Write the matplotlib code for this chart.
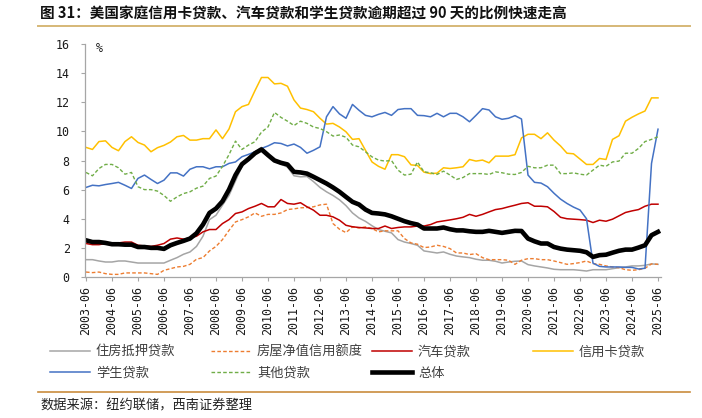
import matplotlib
matplotlib.use("Agg")
import matplotlib.pyplot as plt
from matplotlib.lines import Line2D
import numpy as np

plt.rcParams['font.family'] = ['Noto Sans CJK SC', 'DejaVu Sans']

# quarterly labels 2003-06 ... 2025-06
quarters = []
for y in range(2003, 2026):
    for m in (3, 6, 9, 12):
        if (y == 2003 and m < 6) or (y == 2025 and m > 6):
            continue
        quarters.append(f"{y}-{m:02d}")

mortgage = [1.19,1.19,1.10,1.03,1.03,1.10,1.10,1.03,0.96,0.96,0.96,0.96,0.96,1.15,1.33,1.56,1.72,2.10,2.80,3.94,4.24,4.93,5.60,
            6.60,7.60,8.10,8.60,8.90,8.50,7.95,7.75,7.55,6.95,6.88,6.90,6.55,6.15,5.85,5.60,5.30,4.90,4.40,4.05,3.82,3.52,
            3.26,3.14,3.03,2.57,2.40,2.30,2.18,1.79,1.72,1.65,1.72,1.56,1.44,1.38,1.33,1.22,1.15,1.15,1.08,0.96,1.03,
            1.08,1.10,0.85,0.76,0.69,0.62,0.53,0.50,0.50,0.50,0.46,0.41,0.50,0.50,0.50,0.57,0.64,0.69,0.76,0.76,0.80,0.90,0.87]
heloc = [0.34,0.30,0.34,0.23,0.18,0.18,0.28,0.28,0.28,0.28,0.23,0.18,0.46,0.57,0.69,0.73,0.87,1.22,1.33,1.79,2.10,2.57,3.20,
         3.78,3.94,4.13,4.40,4.17,4.30,4.30,4.40,4.63,4.68,4.75,4.77,4.82,4.95,5.00,3.67,3.28,3.05,3.44,3.37,3.44,3.33,
         3.10,3.17,3.17,3.17,2.64,2.34,2.25,2.02,2.06,2.18,2.10,1.95,1.65,1.65,1.54,1.60,1.33,1.19,1.19,1.19,1.15,
         0.87,1.15,1.26,1.26,1.19,1.19,1.10,0.99,0.87,0.92,0.99,1.10,0.92,0.87,0.76,0.69,0.64,0.50,0.46,0.50,0.60,0.90,0.87]
auto = [2.30,2.22,2.22,2.30,2.30,2.34,2.40,2.40,2.18,2.13,2.10,2.18,2.30,2.60,2.68,2.60,2.68,2.80,3.10,3.26,3.26,3.67,3.94,
        4.36,4.47,4.70,4.86,5.05,4.82,4.82,5.32,5.05,5.00,5.10,4.82,4.59,4.24,4.24,4.13,3.90,3.55,3.45,3.40,3.37,3.33,
        3.33,3.50,3.33,3.40,3.44,3.44,3.50,3.50,3.60,3.78,3.85,3.92,4.00,4.10,4.30,4.17,4.30,4.47,4.63,4.70,4.82,
        4.93,5.05,5.10,4.86,4.86,4.82,4.50,4.10,4.00,3.97,3.94,3.90,3.74,3.90,3.83,3.97,4.20,4.43,4.54,4.63,4.86,5.00,5.00]
credit_card = [8.90,8.76,9.30,9.35,8.90,8.67,9.30,9.63,9.24,9.06,8.60,8.88,9.04,9.27,9.63,9.72,9.40,9.40,9.50,9.50,10.10,9.50,10.16,
               11.35,11.70,11.85,12.80,13.70,13.70,13.26,13.30,13.10,12.16,11.60,11.50,11.35,10.90,10.50,10.55,10.30,9.97,9.45,9.50,8.70,7.90,
               7.60,7.40,8.40,8.40,8.26,7.70,7.66,7.20,7.10,7.13,7.50,7.45,7.50,7.57,8.07,7.96,8.03,7.84,8.30,8.30,8.30,
               8.40,9.55,9.80,9.80,9.50,9.90,9.40,9.00,8.50,8.46,8.10,7.73,7.73,8.14,8.07,9.45,9.70,10.70,10.97,11.20,11.40,12.30,12.30]
student = [6.15,6.30,6.26,6.35,6.42,6.50,6.30,6.08,6.77,7.00,6.70,6.42,6.65,7.15,7.15,6.93,7.40,7.57,7.57,7.43,7.57,7.57,7.80,
           7.90,8.26,8.42,8.60,8.83,9.00,9.22,9.17,9.00,9.13,8.90,8.50,8.70,8.94,11.00,11.70,11.20,10.90,11.85,11.45,11.10,11.00,
           11.17,11.30,11.10,11.50,11.56,11.56,11.10,11.08,11.00,11.24,11.00,11.24,11.24,11.00,10.66,11.10,11.56,11.47,11.00,10.83,10.90,
           11.08,10.85,7.00,6.50,6.45,6.20,5.75,5.35,5.05,4.80,4.60,4.00,0.95,0.73,0.69,0.69,0.69,0.66,0.66,0.55,0.60,7.80,10.15]
other = [7.18,6.95,7.45,7.73,7.73,7.50,7.06,7.18,6.20,6.00,6.00,5.90,5.60,5.20,5.50,5.73,5.85,6.10,6.24,6.77,6.93,7.60,8.40,
         9.33,8.76,9.06,9.29,9.95,10.30,11.30,10.96,10.70,10.40,10.70,10.55,10.30,10.20,9.98,9.68,9.75,9.60,9.06,8.94,8.60,8.25,
         8.03,7.96,8.00,7.34,7.00,7.06,7.90,7.22,7.16,7.04,7.27,7.00,6.70,6.83,7.10,7.10,7.10,7.04,7.22,7.16,7.06,
         7.04,7.18,7.60,7.50,7.50,7.68,7.68,7.10,7.10,7.15,7.06,7.00,7.34,7.68,7.60,7.90,7.96,8.50,8.50,8.83,9.30,9.45,9.63]
total = [2.52,2.40,2.40,2.34,2.25,2.25,2.22,2.22,2.06,2.06,2.00,2.00,1.93,2.18,2.34,2.48,2.64,3.00,3.60,4.40,4.70,5.20,6.00,
         7.00,7.75,8.10,8.50,8.76,8.37,8.00,7.84,7.73,7.22,7.18,7.10,6.88,6.65,6.42,6.15,5.85,5.50,5.16,4.98,4.63,4.40,
         4.36,4.30,4.17,4.00,3.83,3.70,3.60,3.33,3.33,3.33,3.40,3.28,3.20,3.20,3.14,3.10,3.10,3.17,3.10,3.03,3.10,
         3.17,3.16,2.64,2.45,2.30,2.30,2.06,1.95,1.88,1.84,1.80,1.70,1.38,1.50,1.53,1.67,1.80,1.88,1.88,2.02,2.18,2.87,3.10]

names = ['住房抵押贷款', '房屋净值信用额度', '汽车贷款', '信用卡贷款', '学生贷款', '其他贷款', '总体']
series = [mortgage, heloc, auto, credit_card, student, other, total]
colors = ['#A5A5A5', '#ED7D31', '#C00000', '#FFC000', '#4472C4', '#70AD47', '#000000']
styles = ['-', '--', '-', '-', '-', '--', '-']
widths = [1.1, 1.0, 1.1, 1.1, 1.1, 1.0, 3.3]

W, H = 702, 418
fig = plt.figure(figsize=(W/100, H/100), dpi=100)
ax = fig.add_axes([85/W, 1-277/H, (661-85)/W, (277-44)/H])

x = np.arange(len(quarters))
handles = []
for s, c, ls, lw, n in zip(series, colors, styles, widths, names):
    kw = {}
    if ls == '--':
        kw['dashes'] = (2.6, 1.6)
    ln, = ax.plot(x, s, color=c, lw=lw, ls=ls, label=n, solid_joinstyle='round', **kw)
    handles.append(ln)

ax.set_xlim(-0.15, 88.46)
ax.set_ylim(0, 16)
ax.set_yticks(np.arange(0, 17, 2))
ax.set_xticks(x[::4])
ax.set_xticklabels([quarters[i] for i in x[::4]], rotation=90)
for sp in ['top', 'right']:
    ax.spines[sp].set_visible(False)
for sp in ['left', 'bottom']:
    ax.spines[sp].set_color('#A6A6A6')
    ax.spines[sp].set_linewidth(0.9)
ax.tick_params(axis='both', direction='out', length=3, width=0.8, color='#A6A6A6')
ax.tick_params(axis='y', pad=8)
ax.tick_params(axis='x', pad=3.5)
for lab in ax.get_xticklabels() + ax.get_yticklabels():
    lab.set_fontfamily('DejaVu Sans Mono')
    lab.set_fontsize(8.4)
    lab.set_color('#1a1a1a')

fig.text(96/W, 1-49/H, '%', fontsize=8.4, family='DejaVu Sans Mono', va='center', ha='left', color='#1a1a1a')

# title and source
fig.text(40/W, 1-14/H, '图 31：美国家庭信用卡贷款、汽车贷款和学生贷款逾期超过 90 天的比例快速走高',
         fontsize=10.5, fontweight='bold', va='center', ha='left', color='#111111')
fig.add_artist(Line2D([38/W, 690/W], [1-25.7/H, 1-25.7/H], color='#D6B877', lw=1.4))
fig.add_artist(Line2D([38/W, 690/W], [1-392/H, 1-392/H], color='#C98C3D', lw=1.2))
fig.text(40/W, 1-406/H, '数据来源：纽约联储，西南证券整理', fontsize=9.5, style='italic',
         va='center', ha='left', color='#222222')

# legend, one entry per slot
pos = [(50, 352), (211, 352), (372, 352), (533, 352), (50, 373), (211, 373), (372, 373)]
fs = 9.5
for h, n, (px, py) in zip(handles, names, pos):
    leg = fig.legend([h], [n], loc='center left', bbox_to_anchor=(px/W, 1-py/H),
                     frameon=False, fontsize=fs, borderpad=0, borderaxespad=0,
                     handlelength=40/(fs*100/72), handletextpad=6/(fs*100/72))
    for t in leg.get_texts():
        t.set_color('#404040')

fig.savefig('out.png', dpi=100)
